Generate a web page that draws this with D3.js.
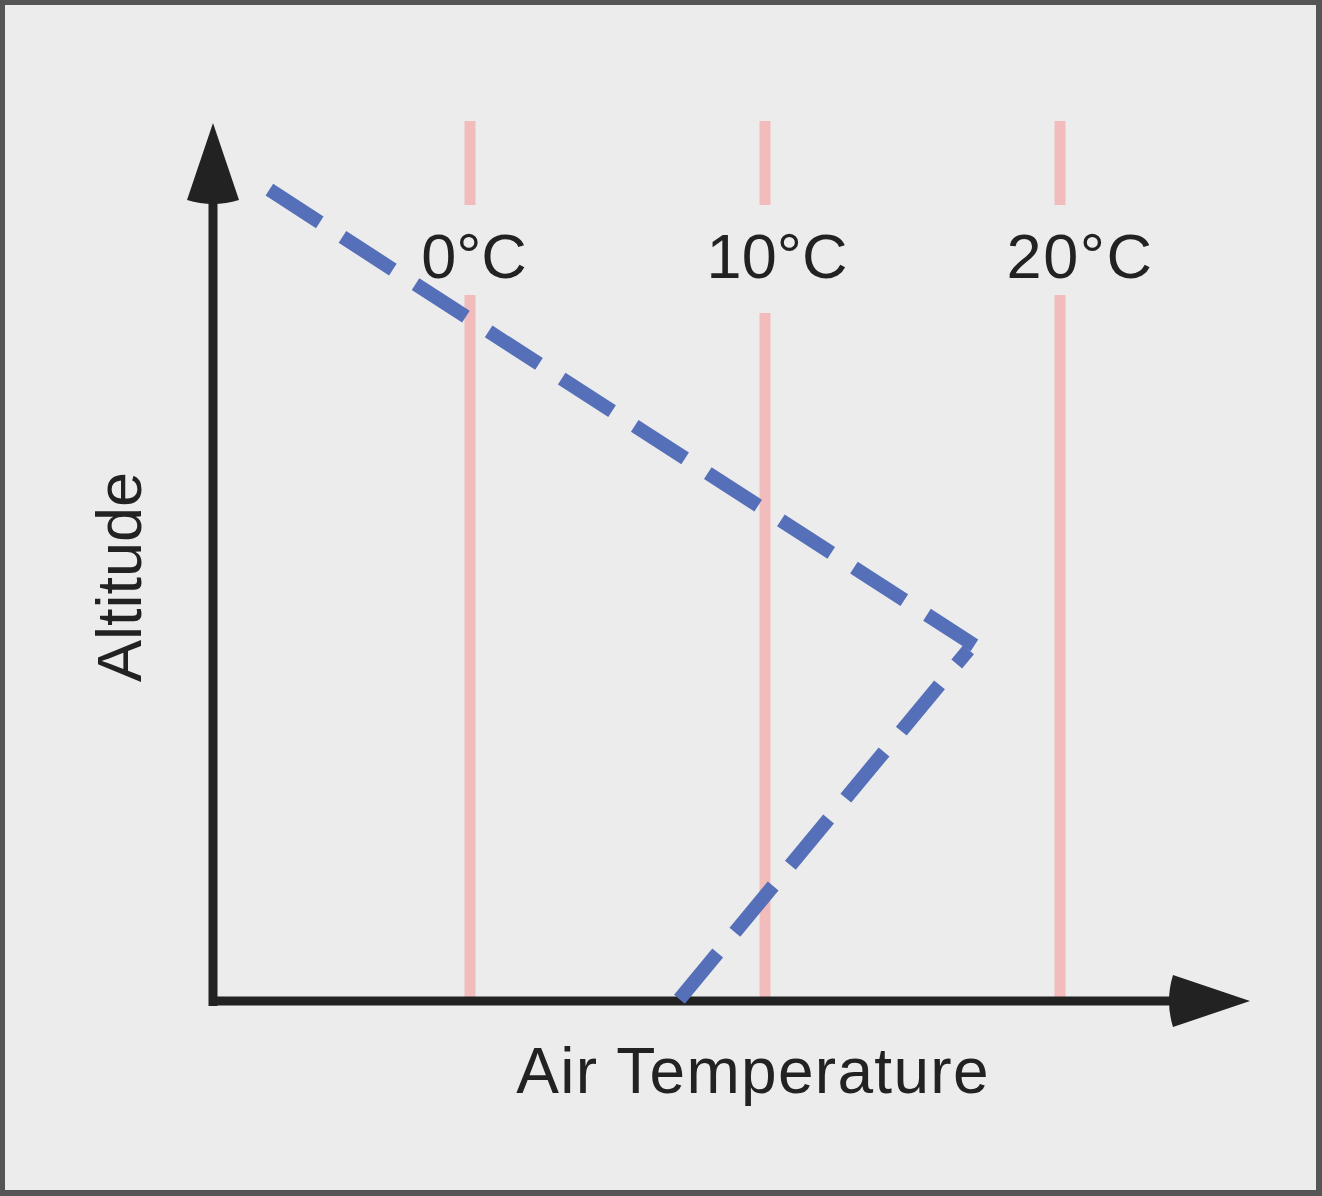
<!DOCTYPE html>
<html>
<head>
<meta charset="utf-8">
<script src="https://cdn.jsdelivr.net/npm/d3@7/dist/d3.min.js"></script>
<style>
  html, body { margin: 0; padding: 0; background: #ececec; }
  svg { display: block; }
</style>
</head>
<body>
<svg id="chart" width="1322" height="1196"></svg>
<script>
// ---- data ----
const isotherms = [0, 10, 20];                       // °C reference lines
const isothermLabels = ["0°C", "10°C", "20°C"];
// temperature profile (temperature °C, altitude in arbitrary units 0..100)
const profileUpper = [
  { temp: -6.8, alt: 92.4 },
  { temp: 17.1, alt: 40.5 }
];
const profileLower = [
  { temp: 7.1, alt: 0.2 },
  { temp: 16.9, alt: 40.0 }
];
const xTitle = "Air Temperature";
const yTitle = "Altitude";

// ---- layout ----
const W = 1322, H = 1196;
const svg = d3.select("#chart");
const x = d3.scaleLinear().domain([0, 20]).range([470, 1060]);
const y = d3.scaleLinear().domain([0, 100]).range([1001, 123]);

const axisColor = "#222222";
const pink = "#f2bcbc";
const blue = "#5570b9";
const font = "'Liberation Sans', Arial, Helvetica, sans-serif";

// background + frame
svg.append("rect").attr("x", 0).attr("y", 0).attr("width", W).attr("height", H).attr("fill", "#555555");
svg.append("rect").attr("x", 5).attr("y", 5).attr("width", W - 11).attr("height", H - 11).attr("fill", "#ececec");

// isotherm lines, broken around labels
const labelBaseline = 278;
const gapTop = labelBaseline - 73, gapBottom = labelBaseline + 17;
const iso = svg.append("g");
isotherms.forEach((t, i) => {
  const xp = x(t);
  iso.append("line").attr("x1", xp).attr("x2", xp).attr("y1", y(100) - 2).attr("y2", gapTop)
    .attr("stroke", pink).attr("stroke-width", 11);
  iso.append("line").attr("x1", xp).attr("x2", xp).attr("y1", gapBottom + (i === 1 ? 18 : 0)).attr("y2", y(0) - 2)
    .attr("stroke", pink).attr("stroke-width", 11);
  iso.append("text").attr("x", xp + 4 + 0.8 * t).attr("y", labelBaseline)
    .attr("text-anchor", "middle").attr("font-family", font).attr("font-size", 63)
    .attr("letter-spacing", i === 2 ? 1.5 : 0)
    .attr("fill", axisColor).text(isothermLabels[i]);
});

// axes
const x0 = x.invert(213), xEnd = x.invert(1250);
const ax = svg.append("g");
// vertical axis line
ax.append("line").attr("x1", x(x0)).attr("x2", x(x0)).attr("y1", y(0) + 5).attr("y2", y(100) + 70)
  .attr("stroke", axisColor).attr("stroke-width", 9);
// horizontal axis line
ax.append("line").attr("x1", x(x0) - 4).attr("x2", x(xEnd) - 70).attr("y1", y(0)).attr("y2", y(0))
  .attr("stroke", axisColor).attr("stroke-width", 9);
// vertical arrowhead
{
  const cx = x(x0), tip = y(100), base = tip + 77;
  ax.append("path")
    .attr("d", `M${cx},${tip} L${cx + 26},${base} Q${cx},${base + 8} ${cx - 26},${base} Z`)
    .attr("fill", axisColor);
}
// horizontal arrowhead
{
  const cy = y(0), tip = x(xEnd), base = tip - 77;
  ax.append("path")
    .attr("d", `M${tip},${cy} L${base},${cy - 26} Q${base - 8},${cy} ${base},${cy + 26} Z`)
    .attr("fill", axisColor);
}

// temperature profile (dashed)
const line = d3.line().x(d => x(d.temp)).y(d => y(d.alt));
[profileUpper, profileLower].forEach(seg => {
  svg.append("path").datum(seg).attr("d", line)
    .attr("fill", "none").attr("stroke", blue).attr("stroke-width", 14)
    .attr("stroke-dasharray", "60 27").attr("stroke-linecap", "butt");
});

// axis titles
svg.append("text").attr("x", 753).attr("y", 1093).attr("text-anchor", "middle")
  .attr("font-family", font).attr("font-size", 64).attr("letter-spacing", 1.3)
  .attr("fill", axisColor).text(xTitle);
svg.append("text").attr("transform", "translate(141,577) rotate(-90)").attr("text-anchor", "middle")
  .attr("font-family", font).attr("font-size", 63).attr("fill", axisColor).text(yTitle);
</script>
</body>
</html>
